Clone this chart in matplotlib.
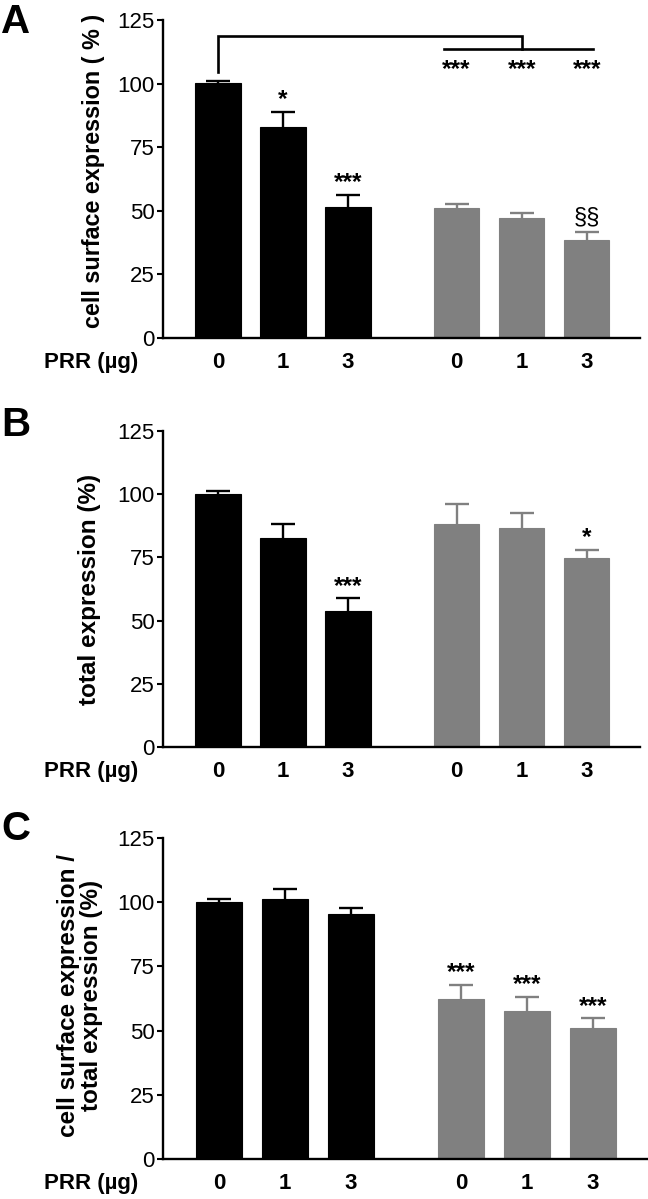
import numpy as np
import matplotlib
matplotlib.use("Agg")
import matplotlib.pyplot as plt
from matplotlib.transforms import ScaledTranslation

plt.rcParams['font.family'] = ['Liberation Sans', 'DejaVu Sans']

# ============================================================
# data
# ============================================================
dose_labels = ['0', '1', '3', '0', '1', '3']
group_colors = ['#000000'] * 3 + ['#808080'] * 3

surface_mean = [100.1, 83.0, 51.3, 51.0, 47.1, 38.7]
surface_err = [1.1, 6.0, 4.9, 1.7, 2.2, 2.9]
surface_sig = ['', '*', '***', '', '', '§§']

total_mean = [100.0, 82.5, 53.9, 88.2, 86.6, 74.6]
total_err = [1.2, 5.9, 4.9, 8.1, 6.0, 3.3]
total_sig = ['', '', '***', '', '', '*']

ratio_mean = [100.1, 101.4, 95.3, 62.3, 57.6, 50.9]
ratio_err = [1.1, 3.6, 2.6, 5.4, 5.6, 3.9]
ratio_sig = ['', '', '', '***', '***', '***']

bracket_sig = ['***', '***', '***']   # gray groups vs black 0 µg (panel A)

y_ticks = [0, 25, 50, 75, 100, 125]

# bar positions: two groups of three with a wider gap
x = np.array([0, 1, 2, 3.67, 4.67, 5.67])

# ============================================================
# figure
# ============================================================
W, H = 648, 1199
fig = plt.figure(figsize=(W / 100, H / 100), dpi=100)


def make_ax(top_px, bottom_px, right_px):
    return fig.add_axes([163 / W, 1 - bottom_px / H,
                         (right_px - 163) / W, (bottom_px - top_px) / H])


def draw_panel(ax, means, errs, sigs, ylabel, label_x, label_y=0.5,
               label_size=17.5, right_lim=6.49):
    ax.bar(x, means, width=0.7, color=group_colors, edgecolor=group_colors,
           linewidth=0.8, zorder=2)
    # symmetric error bars drawn behind the bars -> only the upper half shows
    for idx, col in [(slice(0, 3), '#000000'), (slice(3, 6), '#808080')]:
        ax.errorbar(x[idx], means[idx], yerr=errs[idx], fmt='none',
                    ecolor=col, elinewidth=1.7, capsize=8.5, capthick=1.7,
                    zorder=1)
    for xi, m, e, s in zip(x, means, errs, sigs):
        if not s:
            continue
        if s.startswith('§'):
            ax.text(xi, m + e + 3.6, s, ha='center', va='baseline',
                    fontsize=17, color='#000000')
        else:
            ax.text(xi, m + e + 2.2, s, ha='center', va='baseline',
                    fontsize=17.5, fontweight='bold')

    ax.set_xlim(-0.846, right_lim)
    ax.set_ylim(0, 125)
    ax.set_yticks(y_ticks)
    ax.set_yticklabels([str(t) for t in y_ticks], fontsize=16)
    ax.set_xticks(x)
    ax.set_xticklabels(dose_labels, fontsize=16, fontweight='bold')
    ax.tick_params(axis='x', length=0, pad=10)
    ax.tick_params(axis='y', length=4, width=1.5, pad=2)
    for side in ['top', 'right']:
        ax.spines[side].set_visible(False)
    for side in ['left', 'bottom']:
        ax.spines[side].set_linewidth(1.7)

    ax.text(label_x, label_y, ylabel, transform=ax.transAxes, rotation=90,
            ha='center', va='center', fontsize=label_size, fontweight='bold',
            linespacing=1.0)

    # "PRR (µg)" row label, aligned with the tick labels
    trans = ax.get_xaxis_transform() + ScaledTranslation(0, -10 / 72, fig.dpi_scale_trans)
    ax.text(-1.22, 0, 'PRR (µg)', transform=trans, ha='right', va='top',
            fontsize=16, fontweight='bold')


# --- A ---
axA = make_ax(20, 338, 640)
draw_panel(axA, surface_mean, surface_err, surface_sig,
           'cell surface expression ( % )', -0.145, label_y=0.525,
           label_size=16.8)
# bracket: black 0 µg vs the three gray bars
top_y, low_y = 118.8, 113.5
axA.plot([x[0], x[0], x[4], x[4]],
         [surface_mean[0] + surface_err[0] + 3.5, top_y, top_y, low_y],
         color='black', lw=1.9, solid_joinstyle='miter', clip_on=False)
axA.plot([x[3] - 0.19, x[5] + 0.1], [low_y, low_y], color='black', lw=1.9,
         clip_on=False)
for xi, s in zip(x[3:], bracket_sig):
    axA.text(xi, 103.0, s, ha='center', va='baseline', fontsize=17.5,
             fontweight='bold')

# --- B ---
axB = make_ax(431, 747, 640)
draw_panel(axB, total_mean, total_err, total_sig,
           'total expression (%)', -0.155)

# --- C ---
axC = make_ax(838, 1159, 647)
draw_panel(axC, ratio_mean, ratio_err, ratio_sig,
           'cell surface expression /\ntotal expression (%)', -0.172,
           label_y=0.51)

# panel letters
for letter, ytop in [('A', 3), ('B', 406), ('C', 810)]:
    fig.text(1 / W, 1 - ytop / H, letter, ha='left', va='top',
             fontsize=29, fontweight='bold')

plt.savefig('out.png', dpi=100)
